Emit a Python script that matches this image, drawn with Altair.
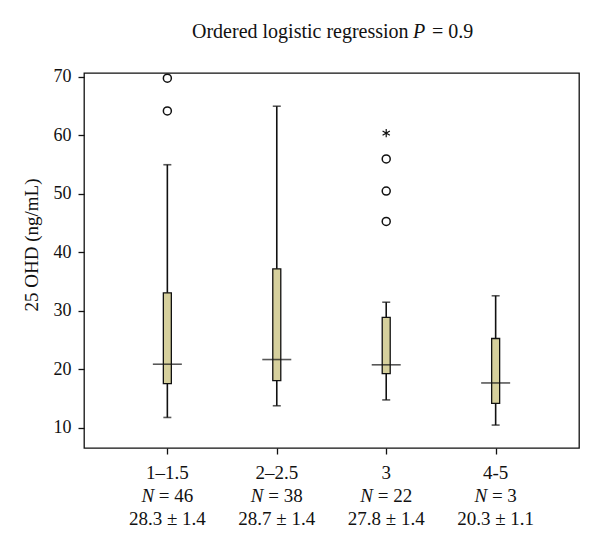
import altair as alt
import pandas as pd

# ---- data ----
groups = [1, 2, 3, 4]
group_labels = ["1–1.5", "2–2.5", "3", "4-5"]
n_values = ["46", "38", "22", "3"]
mean_labels = ["28.3 ± 1.4", "28.7 ± 1.4", "27.8 ± 1.4", "20.3 ± 1.1"]
whisker_low = [11.8, 13.8, 14.8, 10.5]
q1 = [17.6, 18.1, 19.3, 14.2]
median = [20.9, 21.7, 20.8, 17.7]
q3 = [33.1, 37.2, 28.9, 25.3]
whisker_high = [55.0, 65.0, 31.5, 32.6]
outlier_group = [1, 1, 3, 3, 3]
outlier_value = [69.8, 64.2, 56.0, 50.5, 45.3]
extreme_group = [3]
extreme_value = [60.4]

FONT = "Liberation Serif"
INK = "#111111"
BOX_FILL = "#d6d09d"

box = pd.DataFrame({"g": groups, "lo": whisker_low, "q1": q1, "med": median,
                    "q3": q3, "hi": whisker_high, "lab": group_labels,
                    "n": n_values, "mean": mean_labels})
outl = pd.DataFrame({"g": outlier_group, "v": outlier_value})
ext = pd.DataFrame({"g": extreme_group, "v": extreme_value})

xs = alt.Scale(domain=[0.284, 4.716], nice=False, zero=False)
ys = alt.Scale(domain=[6.58, 70.68], nice=False, zero=False)

x_enc = alt.X("g:Q", scale=xs,
              axis=alt.Axis(values=groups, labels=False, title=None, grid=False,
                            domain=False, tickSize=6, tickWidth=1.3, tickColor=INK))
y_enc = alt.Y("lo:Q", scale=ys,
              axis=alt.Axis(values=[10, 20, 30, 40, 50, 60, 70], title=None, grid=False,
                            domain=False, tickSize=6, tickWidth=1.3, tickColor=INK,
                            labelFont=FONT, labelFontSize=18, labelColor=INK,
                            labelPadding=7))

base = alt.Chart(box)

whisker = base.mark_rule(color=INK, strokeWidth=1.6).encode(x=x_enc, y=y_enc, y2="hi:Q")
cap_lo = base.mark_tick(color=INK, size=8, thickness=1.6, orient="horizontal").encode(
    x=alt.X("g:Q", scale=xs), y=alt.Y("lo:Q", scale=ys))
cap_hi = base.mark_tick(color=INK, size=8, thickness=1.6, orient="horizontal").encode(
    x=alt.X("g:Q", scale=xs), y=alt.Y("hi:Q", scale=ys))
boxes = base.mark_bar(size=8, fill=BOX_FILL, stroke=INK, strokeWidth=1.3).encode(
    x=alt.X("g:Q", scale=xs), y=alt.Y("q1:Q", scale=ys), y2="q3:Q")
med = base.mark_tick(color=INK, size=29, thickness=1.6, orient="horizontal").encode(
    x=alt.X("g:Q", scale=xs), y=alt.Y("med:Q", scale=ys))

outliers = alt.Chart(outl).mark_point(shape="circle", size=64, fill="white", filled=True,
                                      stroke=INK, strokeWidth=1.5, opacity=1).encode(
    x=alt.X("g:Q", scale=xs), y=alt.Y("v:Q", scale=ys))

ASTERISK = "M0,-1L0,1M-0.87,-0.5L0.87,0.5M-0.87,0.5L0.87,-0.5"
extreme = alt.Chart(ext).mark_point(shape=ASTERISK, size=70, stroke=INK, strokeWidth=1.2,
                                    filled=False, opacity=1).encode(
    x=alt.X("g:Q", scale=xs), y=alt.Y("v:Q", scale=ys))

# ---- category labels under the x axis ----
LFS = 19
line1 = base.mark_text(font=FONT, fontSize=LFS, color=INK, baseline="alphabetic",
                       align="center").encode(
    x=alt.X("g:Q", scale=xs), y=alt.value(406), text="lab:N")
line3 = base.mark_text(font=FONT, fontSize=LFS, color=INK, baseline="alphabetic",
                       align="center").encode(
    x=alt.X("g:Q", scale=xs), y=alt.value(452), text="mean:N")

n_layers = []
for g, n in zip(groups, n_values):
    wN = 0.667 * LFS
    wrest = (0.25 + 0.564 + 0.25 + 0.5 * len(n)) * LFS
    start = -(wN + wrest) / 2
    sub = base.transform_filter(alt.datum.g == g)
    n_layers.append(sub.mark_text(font=FONT, fontSize=LFS, fontStyle="italic", color=INK,
                                  baseline="alphabetic", align="right",
                                  dx=start + wN).encode(
        x=alt.X("g:Q", scale=xs), y=alt.value(429), text=alt.value("N")))
    n_layers.append(sub.mark_text(font=FONT, fontSize=LFS, color=INK,
                                  baseline="alphabetic", align="left",
                                  dx=start + wN + 0.25 * LFS).encode(
        x=alt.X("g:Q", scale=xs), y=alt.value(429), text=alt.value("= " + n)))

# ---- title and y-axis title ----
ann = alt.Chart(pd.DataFrame({"k": [0]}))
t1 = ann.mark_text(font=FONT, fontSize=20, color=INK, align="left", baseline="alphabetic").encode(
    x=alt.value(108), y=alt.value(-35), text=alt.value("Ordered logistic regression"))
t2 = ann.mark_text(font=FONT, fontSize=20, fontStyle="italic", color=INK, align="left",
                   baseline="alphabetic").encode(
    x=alt.value(329), y=alt.value(-35), text=alt.value("P"))
t3 = ann.mark_text(font=FONT, fontSize=20, color=INK, align="left", baseline="alphabetic").encode(
    x=alt.value(348), y=alt.value(-35), text=alt.value("= 0.9"))
ytitle = ann.mark_text(font=FONT, fontSize=19, color=INK, align="center", baseline="middle",
                       angle=270).encode(
    x=alt.value(-52), y=alt.value(172), text=alt.value("25 OHD (ng/mL)"))

chart = alt.layer(whisker, cap_lo, cap_hi, boxes, med, outliers, extreme,
                  line1, line3, *n_layers, t1, t2, t3, ytitle).properties(
    width=495, height=375,
    background="white",
    autosize=alt.AutoSizeParams(type="none"),
    padding={"left": 76, "top": 65, "right": 10, "bottom": 95},
).configure_view(stroke=INK, strokeWidth=1.3)

chart.save("out.html", embed_options={"renderer": "svg", "actions": False})
